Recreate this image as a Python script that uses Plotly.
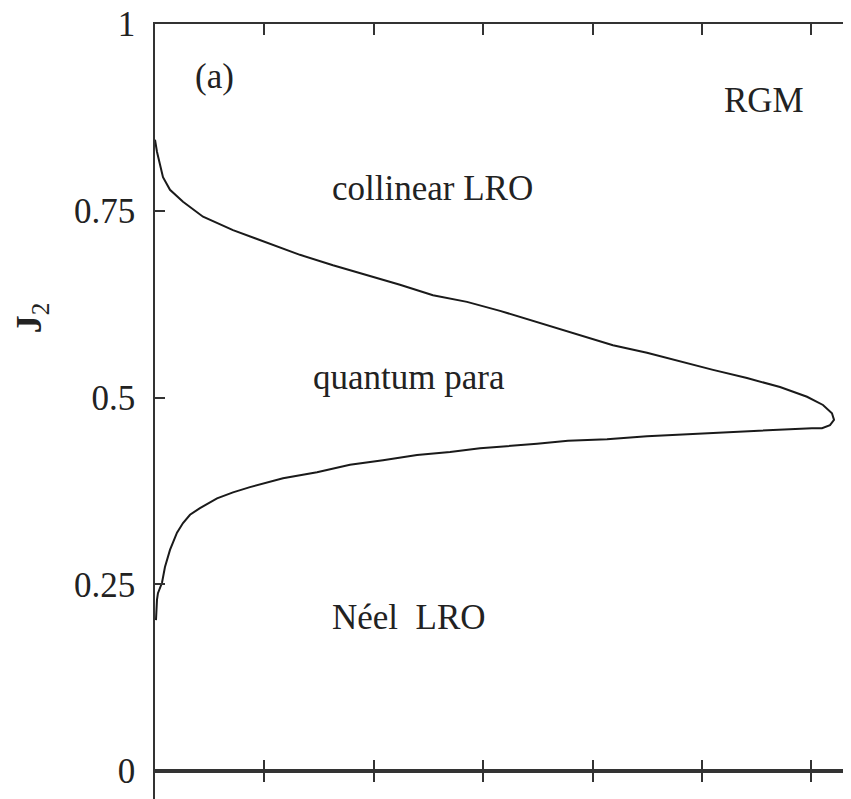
import plotly.graph_objects as go

# Phase boundary (upper branch: collinear / quantum para ; lower branch: quantum para / Neel)
upper_x = [0.0, 0.001, 0.0018, 0.0073, 0.0137, 0.0256, 0.0439, 0.0713, 0.1024, 0.1325,
           0.1627, 0.1938, 0.2239, 0.2541, 0.2852, 0.3154, 0.3583, 0.3885, 0.4186, 0.4497,
           0.4799, 0.5101, 0.5411, 0.5713, 0.5960, 0.6106, 0.6188, 0.6207, 0.6170, 0.6097]
upper_y = [0.845, 0.831, 0.829, 0.795, 0.778, 0.762, 0.742, 0.724, 0.707, 0.691,
           0.677, 0.664, 0.651, 0.637, 0.628, 0.616, 0.597, 0.584, 0.570, 0.560,
           0.548, 0.537, 0.526, 0.514, 0.501, 0.490, 0.479, 0.470, 0.463, 0.459]
lower_x = [0.6005, 0.5868, 0.5411, 0.4954, 0.4497, 0.4132, 0.3775, 0.3492, 0.3199, 0.2971,
           0.2697, 0.2395, 0.2084, 0.1782, 0.1481, 0.1170, 0.0868, 0.0713, 0.0567, 0.0411,
           0.0320, 0.0256, 0.0201, 0.0137, 0.0091, 0.0064, 0.0027, 0.0018, 0.0009]
lower_y = [0.459, 0.458, 0.455, 0.451, 0.448, 0.444, 0.442, 0.438, 0.435, 0.432,
           0.427, 0.423, 0.416, 0.410, 0.400, 0.392, 0.380, 0.373, 0.365, 0.352,
           0.343, 0.332, 0.319, 0.296, 0.273, 0.252, 0.238, 0.229, 0.202]

y_ticks = [0, 0.25, 0.5, 0.75, 1]
y_tick_labels = ["0", "0.25", "0.5", "0.75", "1"]
x_ticks = [0.1, 0.2, 0.3, 0.4, 0.5, 0.6]
x_range = [0, 0.6362]

region_labels = ["(a)", "RGM", "collinear LRO", "quantum para", "Néel  LRO"]
region_x = [0.0548, 0.5567, 0.2532, 0.2318, 0.2321]
region_y = [0.930, 0.897, 0.780, 0.527, 0.205]

INK = "#222222"
FONT = "Liberation Serif"

fig = go.Figure()
fig.add_trace(go.Scatter(x=upper_x + lower_x, y=upper_y + lower_y, mode="lines",
                         line=dict(color="#1a1a1a", width=2), xaxis="x", yaxis="y",
                         showlegend=False, hoverinfo="skip"))
fig.add_trace(go.Scatter(x=[None], y=[None], xaxis="x", yaxis="y3", showlegend=False))
fig.add_trace(go.Scatter(x=[None], y=[None], xaxis="x2", yaxis="y2", showlegend=False))

split = 28 / 775

axis_common = dict(showgrid=False, zeroline=False, linecolor="#333333", linewidth=1.5,
                   tickcolor="#333333", tickwidth=1.5, automargin=False)

# page body has an 8px default margin: size the figure so it ends at the window edge
fig.update_layout(
    width=843, height=791,
    margin=dict(l=147, r=0, t=16, b=0, autoexpand=False),
    plot_bgcolor="white", paper_bgcolor="white",
    font=dict(family=FONT, color=INK, size=35),
    xaxis=dict(domain=[0, 1], range=x_range, anchor="y", showline=True, mirror="ticks",
               ticks="inside", ticklen=11, tickvals=x_ticks, showticklabels=False, **axis_common),
    yaxis=dict(domain=[split, 1], range=[0, 1], anchor="x", showline=True,
               ticks="inside", ticklen=10, tickvals=y_ticks, ticktext=y_tick_labels,
               tickfont=dict(size=35, family=FONT, color=INK), ticklabelstandoff=11,
               ticklabeloverflow="allow", **axis_common),
    yaxis3=dict(overlaying="y", side="right", anchor="x", range=[0, 1], showline=False,
                ticks="inside", ticklen=5, tickvals=y_ticks, showticklabels=False,
                **axis_common),
    xaxis2=dict(domain=[0, 1], range=x_range, anchor="y2", side="top", showline=True,
                ticks="inside", ticklen=11, tickvals=x_ticks, showticklabels=False, **axis_common),
    yaxis2=dict(domain=[0, split], range=[0, 1], anchor="x2", showline=True, ticks="",
                showticklabels=False, **axis_common),
)

for txt, xv, yv in zip(region_labels, region_x, region_y):
    fig.add_annotation(x=xv, y=yv, xref="x", yref="y", text=txt, showarrow=False,
                       xanchor="center", yanchor="middle",
                       font=dict(family=FONT, size=35, color=INK))

fig.add_annotation(x=-0.178, y=0.6206, xref="paper", yref="paper",
                   text="<b>J</b><sub>2</sub>", textangle=-90, showarrow=False,
                   xanchor="center", yanchor="middle",
                   font=dict(family=FONT, size=36, color=INK))

fig.add_annotation(x=0.0548, y=-0.03, xref="x2", yref="paper", text="(b)", showarrow=False,
                   xanchor="center", yanchor="middle",
                   font=dict(family=FONT, size=35, color=INK))

fig.write_html("out.html")
